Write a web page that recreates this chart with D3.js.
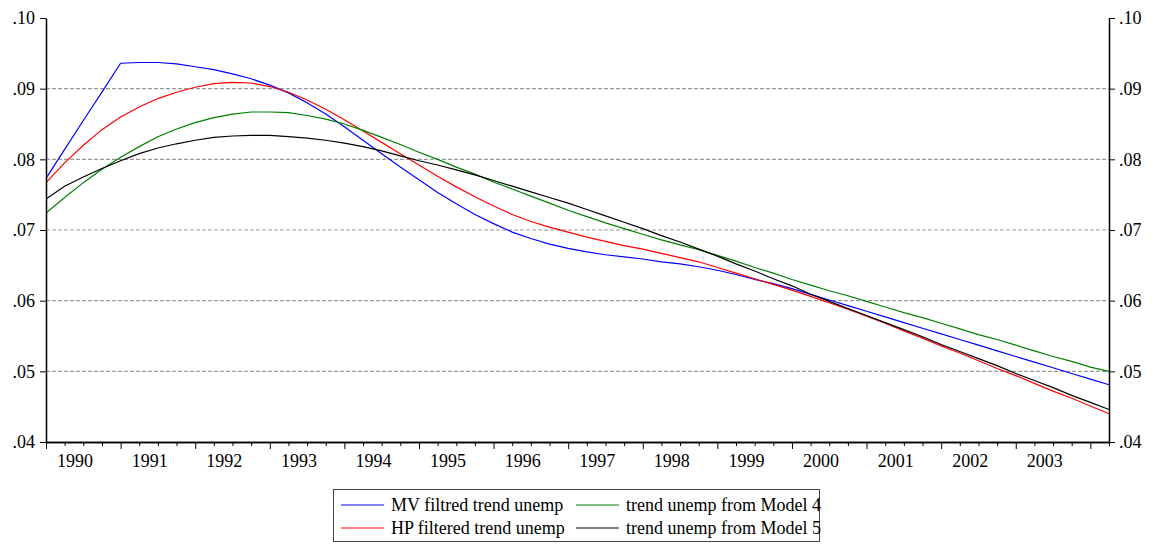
<!DOCTYPE html>
<html><head><meta charset="utf-8">
<script src="https://cdn.jsdelivr.net/npm/d3@7"></script>
<style>
body{margin:0;background:#fff;}
svg{display:block;}
svg text{font-family:'Liberation Serif','DejaVu Serif',serif !important;}
</style></head>
<body><svg id="c" width="1161" height="544"></svg>
<script>
// quarterly observations 1990Q1 .. 2004Q2 (58 points)
const startYear = 1990;
const years = [1990,1991,1992,1993,1994,1995,1996,1997,1998,1999,2000,2001,2002,2003];
const yTicks = [0.04,0.05,0.06,0.07,0.08,0.09,0.10];
const gridValues = [0.05,0.06,0.07,0.08,0.09];
const seriesNames = ["MV filtred trend unemp","HP filtered trend unemp","trend unemp from Model 4","trend unemp from Model 5"];

const mvTrend = [
.0773,.0814,.0855,.0895,.0936,.0937,.0937,.0935,.0931,.0927,.0921,.0914,.0905,.0894,.0880,.0864,
.0846,.0827,.0808,.0789,.0771,.0753,.0737,.0722,.0709,.0697,.0688,.0680,.0674,.0669,.0665,.0662,
.0659,.0655,.0652,.0648,.0643,.0637,.0630,.0624,.0617,.0609,.0601,.0593,.0585,.0577,.0569,.0561,
.0553,.0545,.0537,.0529,.0521,.0513,.0505,.0497,.0489,.0481];
const hpTrend = [
.0767,.0795,.0820,.0842,.0860,.0874,.0886,.0895,.0902,.0907,.0909,.0908,.0903,.0895,.0884,.0871,
.0856,.0840,.0824,.0808,.0792,.0776,.0761,.0747,.0734,.0722,.0712,.0704,.0697,.0690,.0684,.0678,
.0673,.0667,.0661,.0655,.0647,.0639,.0631,.0623,.0615,.0606,.0597,.0588,.0578,.0568,.0557,.0547,
.0536,.0526,.0515,.0504,.0494,.0483,.0472,.0462,.0451,.0440];
const model4Trend = [
.0724,.0746,.0767,.0786,.0803,.0818,.0832,.0843,.0852,.0859,.0864,.0867,.0867,.0866,.0862,.0857,
.0850,.0841,.0831,.0821,.0810,.0800,.0789,.0779,.0768,.0758,.0748,.0738,.0728,.0719,.0710,.0702,
.0694,.0686,.0679,.0672,.0664,.0656,.0647,.0639,.0630,.0622,.0614,.0607,.0599,.0591,.0583,.0576,
.0568,.0560,.0552,.0545,.0537,.0529,.0521,.0514,.0506,.0500];
const model5Trend = [
.0744,.0762,.0775,.0787,.0798,.0808,.0816,.0822,.0827,.0831,.0833,.0834,.0834,.0832,.0830,.0827,
.0823,.0818,.0812,.0805,.0798,.0792,.0785,.0778,.0770,.0762,.0754,.0746,.0738,.0729,.0720,.0711,
.0702,.0692,.0683,.0673,.0663,.0652,.0642,.0631,.0621,.0609,.0599,.0589,.0579,.0569,.0559,.0549,
.0538,.0528,.0518,.0508,.0497,.0487,.0477,.0466,.0456,.0446];
const seriesColors = ["#0000ff","#ff0000","#008000","#000000"];

const FONT = "'Liberation Serif','DejaVu Serif',serif";
const svg = d3.select("#c").attr("font-family", FONT);
const L = 46, R = 1109, T = 18, B = 442;
const x = d3.scaleLinear().domain([startYear, startYear + 14.25]).range([L, R]);
const y = d3.scaleLinear().domain([0.04, 0.10]).range([B, T]);
const dates = mvTrend.map((_, i) => startYear + i * 0.25);
const fmt = v => d3.format(".2f")(v).replace(/^0/, "");

// grid
svg.append("g").selectAll("line").data(gridValues).join("line")
  .attr("x1", L).attr("x2", R).attr("y1", d => y(d)).attr("y2", d => y(d))
  .attr("stroke", "#999").attr("stroke-width", 1.2).attr("stroke-dasharray", "4,2");

// series
const line = d3.line().x((d, i) => x(dates[i])).y(d => y(d));
[mvTrend, hpTrend, model4Trend, model5Trend].forEach((s, k) => {
  svg.append("path").datum(s).attr("d", line).attr("fill", "none")
    .attr("stroke", seriesColors[k]).attr("stroke-width", 1.2);
});

// axes
const styleAxis = g => {
  g.attr("font-family", FONT).attr("font-size", 18);
  g.selectAll("text").attr("fill", "#000").style("font-family", FONT).style("font-size", "18px");
  g.selectAll("line,path").attr("stroke", "#000");
  g.select(".domain").attr("stroke-width", 1.5);
};
svg.append("g").attr("transform", `translate(${L},0)`)
  .call(d3.axisLeft(y).tickValues(yTicks).tickFormat(fmt).tickSize(6).tickSizeOuter(0).tickPadding(5))
  .call(styleAxis);
svg.append("g").attr("transform", `translate(${R},0)`)
  .call(d3.axisRight(y).tickValues(yTicks).tickFormat(fmt).tickSize(6).tickSizeOuter(0).tickPadding(4))
  .call(styleAxis);

const quarterTicks = d3.range(0, 58).map(i => startYear + i * 0.25);
svg.append("g").attr("transform", `translate(0,${B})`)
  .call(d3.axisBottom(x).tickValues(quarterTicks.filter(d => d % 1 !== 0)).tickFormat("").tickSize(4).tickSizeOuter(0))
  .call(styleAxis);
svg.append("g").attr("transform", `translate(0,${B})`)
  .call(d3.axisBottom(x).tickValues(years.concat([2004])).tickFormat("").tickSize(7).tickSizeOuter(0))
  .call(styleAxis);
svg.append("g").selectAll("text").data(years).join("text")
  .attr("x", d => x(d + 0.39)).attr("y", 467).attr("text-anchor", "middle")
  .style("font-family", FONT).style("font-size", "18px").text(d => d);

// legend
const lg = svg.append("g");
lg.append("rect").attr("x", 333.5).attr("y", 489.5).attr("width", 486).attr("height", 52)
  .attr("fill", "none").attr("stroke", "#444").attr("stroke-width", 1);
const pos = [[341, 505], [341, 528], [576, 505], [576, 528]];
seriesNames.forEach((n, k) => {
  const [px, py] = pos[k];
  lg.append("line").attr("x1", px).attr("x2", px + 43).attr("y1", py).attr("y2", py)
    .attr("stroke", seriesColors[k]).attr("stroke-width", 1.2);
  lg.append("text").attr("x", px + 50).attr("y", py + 5.5)
    .style("font-family", FONT).style("font-size", "18px").text(n);
});
</script></body></html>
